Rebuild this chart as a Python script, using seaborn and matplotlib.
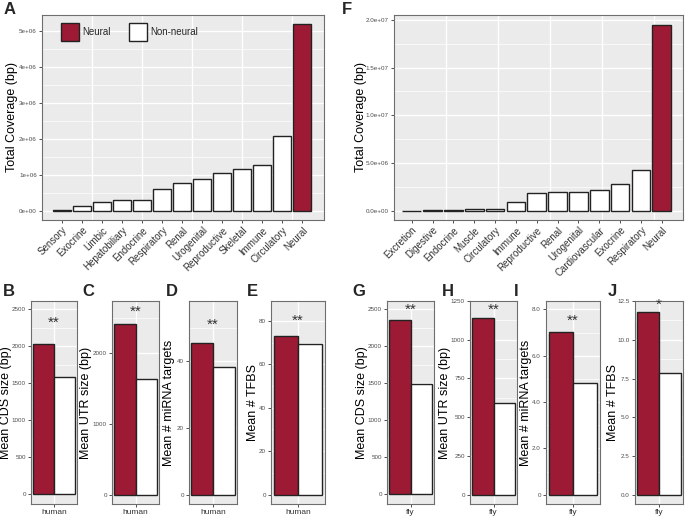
import numpy as np
import pandas as pd
import matplotlib
matplotlib.use("Agg")
import matplotlib.pyplot as plt
from matplotlib.patches import Patch
from matplotlib.ticker import MultipleLocator
import seaborn as sns

# ------------------- Data -------------------
human_tissues = ["Sensory", "Exocrine", "Limbic", "Hepatobiliary", "Endocrine", "Respiratory",
                 "Renal", "Urogenital", "Reproductive", "Skeletal", "Immune", "Circulatory", "Neural"]
human_coverage = [0.02e6, 0.14e6, 0.23e6, 0.31e6, 0.31e6, 0.61e6,
                  0.78e6, 0.87e6, 1.06e6, 1.16e6, 1.28e6, 2.07e6, 5.18e6]

fly_tissues = ["Excretion", "Digestive", "Endocrine", "Muscle", "Circulatory", "Immune",
               "Reproductive", "Renal", "Urogenital", "Cardiovascular", "Exocrine", "Respiratory", "Neural"]
fly_coverage = [0.02e6, 0.05e6, 0.08e6, 0.21e6, 0.21e6, 0.95e6,
                1.83e6, 2.0e6, 2.0e6, 2.22e6, 2.78e6, 4.23e6, 19.5e6]

groups = ["Neural", "Non-neural"]
metric_labels = ["Mean CDS size (bp)", "Mean UTR size (bp)", "Mean # miRNA targets", "Mean # TFBS"]

human_neural = [2030, 2406, 45.5, 72.8]
human_nonneural = [1585, 1629, 38.3, 69.4]
human_sig = ["**", "**", "**", "**"]

fly_neural = [2352, 1138, 7.02, 11.8]
fly_nonneural = [1488, 594, 4.81, 7.89]
fly_sig = ["**", "**", "**", "*"]

human_yticks = [[0, 500, 1000, 1500, 2000, 2500], [0, 1000, 2000], [0, 20, 40], [0, 20, 40, 60, 80]]
human_yticklabels = [["0", "500", "1000", "1500", "2000", "2500"], ["0", "1000", "2000"],
                     ["0", "20", "40"], ["0", "20", "40", "60", "80"]]
fly_yticks = [[0, 500, 1000, 1500, 2000, 2500], [0, 250, 500, 750, 1000, 1250],
              [0, 2, 4, 6, 8], [0, 2.5, 5, 7.5, 10, 12.5]]
fly_yticklabels = [["0", "500", "1000", "1500", "2000", "2500"], ["0", "250", "500", "750", "1000", "1250"],
                   ["0", "2.0", "4.0", "6.0", "8.0"], ["0.0", "2.5", "5.0", "7.5", "10.0", "12.5"]]

a_yticks = [0, 1e6, 2e6, 3e6, 4e6, 5e6]
a_yticklabels = ["0e+00", "1e+06", "2e+06", "3e+06", "4e+06", "5e+06"]
f_yticks = [0, 5e6, 1e7, 1.5e7, 2e7]
f_yticklabels = ["0.0e+00", "5.0e+06", "1.0e+07", "1.5e+07", "2.0e+07"]

# ------------------- Layout (pixels) -------------------
W, H = 685, 517
NEURAL = "#9C1A33"
EDGE = "#222222"

human_ylims = [(-131, 2608), (-131, 2735), (-2.8, 58.0), (-4.3, 89.1)]
fly_ylims = [(-131, 2608), (-60, 1250), (-0.40, 8.36), (-0.58, 12.5)]
human_minor = [250, 500, 10, 10]
fly_minor = [250, 125, 1.0, 1.25]
human_star_y = [2310, 2584, 51.0, 80.0]
fly_star_y = [2486, 1192, 7.5, 12.24]

human_boxes = [(31, 77), (112, 159), (189, 237), (271, 325)]
fly_boxes = [(387, 434), (470, 517), (546, 600), (635, 683)]
human_label_x = [12.5, 92, 175, 258.5]
fly_label_x = [368.5, 450.5, 532, 618.5]
BOT_TOP, BOT_BOTTOM = 301, 504

sns.set_theme(style="darkgrid", rc={"axes.facecolor": "#EBEBEB"})
plt.rcParams['font.family'] = ['Liberation Sans', 'DejaVu Sans']

fig = plt.figure(figsize=(W / 100, H / 100), dpi=100)


def px_axes(left, right, top, bottom):
    return fig.add_axes([left / W, 1 - bottom / H, (right - left) / W, (bottom - top) / H])


def style_axes(ax, yticks, yticklabels, ylim, minor_step):
    ax.set_ylim(*ylim)
    ax.set_yticks(yticks)
    ax.set_yticklabels(yticklabels)
    ax.yaxis.set_minor_locator(MultipleLocator(minor_step))
    ax.grid(which='major', color='white', lw=1.0)
    ax.grid(which='minor', axis='y', color='white', lw=0.5)
    ax.tick_params(which='minor', length=0)
    ax.tick_params(which='major', left=True, bottom=True, length=2.5, width=0.6,
                   color='#333333', pad=1.2)
    ax.tick_params(axis='y', labelsize=4.5, labelcolor='#4D4D4D')
    for s in ax.spines.values():
        s.set_visible(True)
        s.set_color('#6E6E6E')
        s.set_linewidth(0.8)


def coverage_panel(ax, tissues, coverage, yticks, yticklabels, ylim, minor, xlim, vlines, label_right):
    df = pd.DataFrame({"tissue": tissues, "coverage": coverage})
    colors = [NEURAL if t == "Neural" else "white" for t in tissues]
    sns.barplot(data=df, x="tissue", y="coverage", hue="tissue", palette=colors, legend=False,
                width=0.9, saturation=1, edgecolor=EDGE, linewidth=1.0, ax=ax)
    style_axes(ax, yticks, yticklabels, ylim, minor)
    ax.grid(False, axis='x')
    for v in vlines:
        ax.axvline(v, color='white', lw=1.0, zorder=0.6)
    ax.set_xlim(*xlim)
    ax.set_xticks(range(len(tissues)))
    ax.set_xticklabels(tissues, rotation=45, ha='right', rotation_mode='anchor',
                       fontsize=7, color='#333333')
    ax.set_xlabel("")
    ax.set_ylabel("Total Coverage (bp)", fontsize=9, color='black')
    bb = ax.get_position()
    ax.yaxis.set_label_coords((label_right / W - bb.x0) / bb.width, 0.5)


# ------------------- Panel A -------------------
axA = px_axes(42, 324, 15, 220)
coverage_panel(axA, human_tissues, human_coverage, a_yticks, a_yticklabels,
               (-0.258e6, 5.436e6), 0.5e6, (-1.0, 13.08), [1.5, 4.0, 6.5, 9.0, 11.5], 18)
handles = [Patch(facecolor=NEURAL, edgecolor=EDGE, lw=1.0, label="Neural"),
           Patch(facecolor="white", edgecolor=EDGE, lw=1.0, label="Non-neural")]
axA.legend(handles=handles, loc='upper left', bbox_to_anchor=(19 / 282, 1 - 8 / 205), ncol=2,
           frameon=False, fontsize=7, handlelength=1.85, handleheight=2.5,
           handletextpad=0.35, columnspacing=1.9, borderpad=0, borderaxespad=0)

# ------------------- Panel F -------------------
axF = px_axes(394, 683, 15, 220)
coverage_panel(axF, fly_tissues, fly_coverage, f_yticks, f_yticklabels,
               (-0.976e6, 20.52e6), 2.5e6, (-0.85, 13.02), [1.65, 4.15, 6.65, 9.15, 11.65], 367)


# ------------------- Bottom panels -------------------
def mean_panel(box, species, neural, nonneural, ylabel, yticks, yticklabels, ylim, minor, sig, star_y, label_right):
    ax = px_axes(box[0], box[1], BOT_TOP, BOT_BOTTOM)
    df = pd.DataFrame({"species": [species] * 2, "group": groups, "value": [neural, nonneural]})
    sns.barplot(data=df, x="species", y="value", hue="group",
                palette={"Neural": NEURAL, "Non-neural": "white"}, legend=False,
                width=0.9, saturation=1, edgecolor=EDGE, linewidth=1.0, ax=ax)
    style_axes(ax, yticks, yticklabels, ylim, minor)
    ax.set_xlim(-0.5, 0.5)
    ax.tick_params(axis='x', labelsize=6, labelcolor='#333333')
    ax.set_xlabel("")
    ax.text(0, star_y, sig, ha='center', va='center', fontsize=11, color='#333333')
    ax.set_ylabel(ylabel, fontsize=9, color='black')
    ax.yaxis.set_label_coords((label_right - box[0]) / (box[1] - box[0]), 0.5)
    return ax


for i in range(4):
    mean_panel(human_boxes[i], "human", human_neural[i], human_nonneural[i], metric_labels[i],
               human_yticks[i], human_yticklabels[i], human_ylims[i], human_minor[i],
               human_sig[i], human_star_y[i], human_label_x[i])
    mean_panel(fly_boxes[i], "fly", fly_neural[i], fly_nonneural[i], metric_labels[i],
               fly_yticks[i], fly_yticklabels[i], fly_ylims[i], fly_minor[i],
               fly_sig[i], fly_star_y[i], fly_label_x[i])

# ------------------- Panel letters -------------------
letters = ["A", "F", "B", "C", "D", "E", "G", "H", "I", "J"]
letter_pos = [(4, 2), (342, 2), (3, 284), (82, 284), (166, 284), (247, 284),
              (352, 284), (442, 284), (514, 284), (608, 284)]
for lt, (x, y) in zip(letters, letter_pos):
    fig.text(x / W, 1 - y / H, lt, fontsize=12, fontweight='bold', va='top', ha='left')

fig.savefig("out.png", dpi=100)
